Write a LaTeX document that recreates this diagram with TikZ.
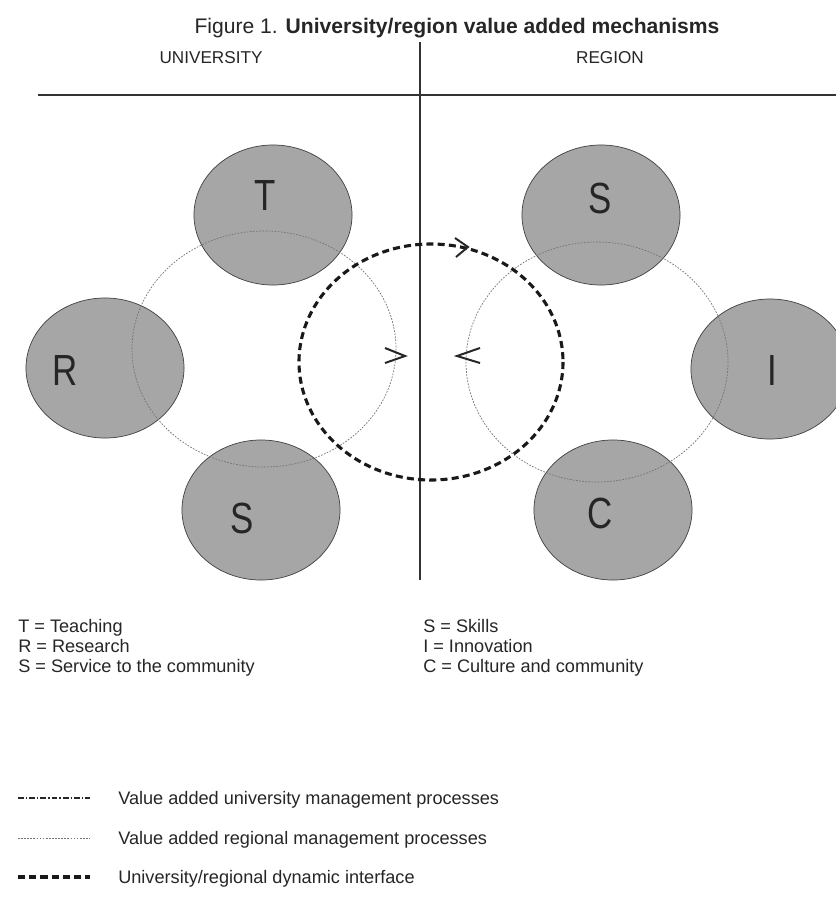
\documentclass[tikz,border=0pt]{standalone}
\usepackage{fontspec}
\setmainfont{Liberation Sans}
\usetikzlibrary{shapes.geometric,calc}

\tikzset{
  blob/.style={ellipse, draw=black!75, line width=0.5pt, fill=black!35,
               minimum width=3.95cm, minimum height=3.5cm, inner sep=0pt},
  letter/.style={font=\fontsize{31}{33}\selectfont\addfontfeature{FakeStretch=0.8}, text=black!85},
  keytext/.style={font=\fontsize{12.9}{15}\selectfont, anchor=base west, inner sep=0pt, text=black!85},
  unimgmt/.style={line width=1.2pt, black!85, dash pattern=on 4pt off 1.5pt on 1pt off 1.5pt},
  regmgmt/.style={line width=0.5pt, black!55, dash pattern=on 1.2pt off 1pt},
  interface/.style={line width=2.2pt, black!90, dash pattern=on 5pt off 3pt},
  chevron/.style={line width=1.4pt, black!85, line join=miter}
}

\begin{document}
\begin{tikzpicture}[x=0.025cm, y=-0.025cm]
    \useasboundingbox[fill=white] (0,0) rectangle (836,903);

    % titel en kolommen
    \node[font=\fontsize{15}{17}\selectfont, text=black!85] (title) at (457,28)
         {Figure 1. \textbf{University/region value added mechanisms}};
    \node[font=\fontsize{12.2}{14}\selectfont, text=black!85] (uni) at (211,58) {UNIVERSITY};
    \node[font=\fontsize{12.2}{14}\selectfont, text=black!85] (reg) at (610,58) {REGION};
    \draw[black!80, line width=0.8pt] (38,95) -- (836,95);
    \draw[black!80, line width=0.8pt] (420,42) -- (420,580);

    % de grijze cirkels
    \node[blob] (T)  at (273,215) {};
    \node[blob] (R)  at (105,368) {};
    \node[blob] (S1) at (261,510) {};
    \node[blob] (S2) at (601,215) {};
    \node[blob] (I)  at (770,369) {};
    \node[blob] (C)  at (613,510) {};

    \node[letter] (Tl)  at (265,195) {T};
    \node[letter] (Rl)  at (65,370)  {R};
    \node[letter] (S1l) at (242,518) {S};
    \node[letter] (S2l) at (600,198) {S};
    \node[letter] (Il)  at (772,370) {I};
    \node[letter] (Cl)  at (600,513) {C};

    % processen
    \draw[regmgmt] (264,349) ellipse (132 and 118);
    \draw[regmgmt] (597,362) ellipse (131 and 120);
    \draw[interface] (431,362) ellipse (132 and 118);

    \draw[chevron] (385,348) -- (405,356) -- (385,363); % pijl links
    \draw[chevron] (480,348) -- (457,356) -- (480,363); % pijl rechts
    \draw[chevron] (455,238) -- (468,247) -- (456,257); % pijl boven

    % legenda
    \node[keytext] (k1) at (18,632) {T = Teaching};
    \node[keytext] (k2) at (18,652) {R = Research};
    \node[keytext] (k3) at (18,672) {S = Service to the community};
    \node[keytext] (k4) at (423,632) {S = Skills};
    \node[keytext] (k5) at (423,652) {I = Innovation};
    \node[keytext] (k6) at (423,672) {C = Culture and community};

    \draw[unimgmt] (18,798) -- (90,798);
    \draw[regmgmt] (18,838) -- (90,838);
    \draw[interface] (18,877) -- (90,877);
    \node[keytext] (l1) at (118,804) {Value added university management processes};
    \node[keytext] (l2) at (118,844) {Value added regional management processes};
    \node[keytext] (l3) at (118,883) {University/regional dynamic interface};
  \end{tikzpicture}
\end{document}
